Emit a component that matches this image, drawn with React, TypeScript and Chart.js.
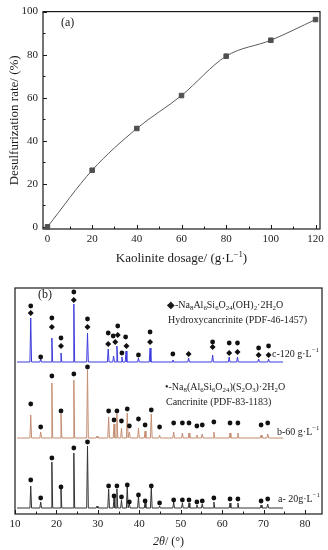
import React, { useEffect, useRef } from 'react';
import { Chart, registerables } from 'chart.js';
Chart.register(...registerables);

// ---------- Panel (a) data ----------
const DOSAGE = [0, 20, 40, 60, 80, 100, 120];
const RATE = [0, 26.3, 45.7, 61, 79.3, 86.7, 96.3];
const TOP_X_TICKS = [0, 20, 40, 60, 80, 100, 120];
const TOP_X_MINOR = [10, 30, 50, 70, 90, 110];
const TOP_Y_TICKS = [0, 20, 40, 60, 80, 100];
const TOP_Y_MINOR = [10, 30, 50, 70, 90];

// ---------- Panel (b) data ----------
const XRD_X_TICKS = [10, 20, 30, 40, 50, 60, 70, 80];
const XRD_X_MINOR = [15, 25, 35, 45, 55, 65, 75];
const TRACE_START = 10.5;
const TRACE_END = 74.7;
const A_BASE = 6;
const B_BASE = 76;
const C_BASE = 152;

const AB_PEAKS = [13.8, 16.2, 18.9, 21.1, 24.2, 27.5, 29.8, 32.6, 33.9, 34.6, 35.7, 37.1, 37.6, 39.8, 41.4, 42.9, 44.9, 48.3, 50.4, 52.0, 53.9, 55.2, 58.0, 61.9, 63.8, 69.4, 71.0];
const A_HEIGHTS = [22, 6, 46, 19, 55, 62, 2, 19, 11, 19, 8, 22, 4, 12, 6, 21, 2, 6, 5, 5, 3, 4, 6, 5, 5, 3, 4];
const B_HEIGHTS = [23, 6, 55, 24, 58, 68, 2, 21, 14, 24, 10, 25, 6, 10, 7, 24, 3, 6, 5, 5, 3, 4, 6, 5, 5, 3, 4];
const C_PEAKS = [13.8, 16.2, 18.9, 21.1, 24.2, 27.5, 32.5, 33.8, 34.6, 35.8, 36.8, 39.8, 42.6, 48.1, 51.9, 57.7, 61.7, 63.7, 68.8, 71.2];
const C_HEIGHTS = [44, 3, 24, 9, 58, 29, 13, 6, 16, 5, 11, 4, 14, 2, 4, 7, 5, 5, 3, 3];

const AB_DOT_X = [13.8, 16.2, 18.9, 21.1, 24.2, 27.5, 32.6, 33.9, 34.6, 35.7, 37.1, 37.6, 39.8, 41.4, 42.9, 44.9, 48.3, 50.4, 52.0, 53.9, 55.2, 58.0, 61.9, 63.8, 69.4, 71.0];
const A_DOT_Y = [34, 16, 56, 27, 66, 72, 28, 18, 28, 17, 29, 12, 19, 13, 28, 11, 14, 14, 14, 12, 13, 16, 15, 15, 13, 15];
const B_DOT_Y = [110, 87, 138, 103, 140, 147, 103, 94, 103, 93, 105, 88, 95, 89, 104, 87, 91, 91, 91, 88, 89, 92, 91, 91, 89, 91];
const C_DOT_X = [13.8, 16.2, 18.9, 21.1, 24.2, 27.5, 32.5, 33.7, 34.8, 35.8, 36.7, 39.8, 42.6, 48.1, 57.7, 61.7, 63.7, 68.8, 71.2];
const C_DOT_Y = [208, 157, 196, 176, 222, 195, 181, 178, 188, 161, 177, 159, 182, 160, 172, 171, 171, 166, 168];
const C_DIA_X = [13.8, 18.9, 21.1, 24.2, 27.5, 32.5, 34.2, 34.8, 36.9, 42.6, 51.9, 57.7, 61.7, 63.7, 68.8, 71.2];
const C_DIA_Y = [201, 187, 168, 214, 187, 170, 172, 179, 168, 172, 160, 167, 161, 162, 159, 159];

const SERIF = '"Liberation Serif", "Times New Roman", serif';

function buildTrace(peaks: number[], heights: number[], base: number) {
  const w = 0.2;
  const pts: { x: number; y: number }[] = [{ x: TRACE_START, y: base }];
  peaks.forEach((p, i) => {
    pts.push({ x: p - w, y: base }, { x: p, y: base + heights[i] }, { x: p + w, y: base });
  });
  pts.push({ x: TRACE_END, y: base });
  return pts;
}

function zip(xs: number[], ys: number[], off = 0) {
  return xs.map((x, i) => ({ x, y: ys[i] + off }));
}

type Seg = { t: string; m: number; it: boolean };
function parseRich(s: string): Seg[] {
  const segs: Seg[] = [];
  let buf = '';
  let it = false;
  let i = 0;
  const flush = () => { if (buf) { segs.push({ t: buf, m: 0, it }); buf = ''; } };
  while (i < s.length) {
    const ch = s[i];
    if (ch === '_' || ch === '^') {
      flush();
      let t: string;
      if (s[i + 1] === '{') {
        const j = s.indexOf('}', i);
        t = s.slice(i + 2, j);
        i = j + 1;
      } else {
        t = s[i + 1];
        i += 2;
      }
      segs.push({ t, m: ch === '_' ? 1 : -1, it });
    } else if (ch === '~') {
      flush();
      it = !it;
      i++;
    } else {
      buf += ch;
      i++;
    }
  }
  flush();
  return segs;
}

function drawRich(ctx: CanvasRenderingContext2D, s: string, x: number, y: number, size: number, align: 'left' | 'center' = 'left', color = '#1a1a1a') {
  const segs = parseRich(s);
  const small = size * 0.68;
  const fontFor = (g: Seg) => `${g.it ? 'italic ' : ''}${g.m === 0 ? size : small}px ${SERIF}`;
  let total = 0;
  segs.forEach((g) => { ctx.font = fontFor(g); total += ctx.measureText(g.t).width; });
  let cx = align === 'center' ? x - total / 2 : x;
  ctx.fillStyle = color;
  ctx.textBaseline = 'middle';
  ctx.textAlign = 'left';
  segs.forEach((g) => {
    ctx.font = fontFor(g);
    const dy = g.m === 1 ? size * 0.28 : g.m === -1 ? -size * 0.35 : 0;
    ctx.fillText(g.t, cx, y + dy);
    cx += ctx.measureText(g.t).width;
  });
}

function drawFrameAndTicks(chart: any, xMaj: number[], xMin: number[], yMaj: number[], yMin: number[]) {
  const { ctx, chartArea: a, scales } = chart;
  ctx.save();
  ctx.strokeStyle = '#1a1a1a';
  ctx.lineWidth = 1.2;
  ctx.strokeRect(a.left, a.top, a.right - a.left, a.bottom - a.top);
  ctx.lineWidth = 1;
  ctx.beginPath();
  xMaj.forEach((v) => { const p = Math.round(scales.x.getPixelForValue(v)) + 0.5; ctx.moveTo(p, a.bottom); ctx.lineTo(p, a.bottom - 4); });
  xMin.forEach((v) => { const p = Math.round(scales.x.getPixelForValue(v)) + 0.5; ctx.moveTo(p, a.bottom); ctx.lineTo(p, a.bottom - 2.5); });
  yMaj.forEach((v) => { const p = Math.round(scales.y.getPixelForValue(v)) + 0.5; ctx.moveTo(a.left, p); ctx.lineTo(a.left + 4, p); });
  yMin.forEach((v) => { const p = Math.round(scales.y.getPixelForValue(v)) + 0.5; ctx.moveTo(a.left, p); ctx.lineTo(a.left + 2.5, p); });
  ctx.stroke();
  ctx.restore();
}

function TopChart() {
  const ref = useRef<HTMLCanvasElement>(null);
  useEffect(() => {
    const decor = {
      id: 'decorA',
      beforeDatasetsDraw(chart: any) {
        drawFrameAndTicks(chart, TOP_X_TICKS, TOP_X_MINOR, TOP_Y_TICKS, TOP_Y_MINOR);
      },
      afterDraw(chart: any) {
        const { ctx, chartArea: a } = chart;
        ctx.save();
        drawRich(ctx, '(a)', 61, 23, 12);
        drawRich(ctx, 'Kaolinite dosage/ (g·L^{−1})', (a.left + a.right) / 2, 259, 13, 'center');
        ctx.translate(15, (a.top + a.bottom) / 2);
        ctx.rotate(-Math.PI / 2);
        drawRich(ctx, 'Desulfurization rate/ (%)', 0, 0, 13, 'center');
        ctx.restore();
      },
    };
    const chart = new Chart(ref.current!, {
      type: 'line',
      data: {
        datasets: [
          {
            data: DOSAGE.map((x, i) => ({ x, y: RATE[i] })),
            borderColor: '#5a5a5a',
            borderWidth: 1,
            pointStyle: 'rect',
            pointRadius: 3.2,
            pointBackgroundColor: '#505050',
            pointBorderColor: '#505050',
            cubicInterpolationMode: 'monotone',
            clip: false as any,
          },
        ],
      },
      options: {
        responsive: false,
        animation: false,
        devicePixelRatio: 1,
        layout: { padding: { left: 0, right: 8, top: 6, bottom: 0 } },
        plugins: { legend: { display: false }, tooltip: { enabled: false } },
        scales: {
          x: {
            type: 'linear',
            min: -2,
            max: 122,
            grid: { display: false, drawTicks: false },
            border: { display: false },
            afterBuildTicks: (s: any) => { s.ticks = TOP_X_TICKS.map((v) => ({ value: v })); },
            afterFit: (s: any) => { s.height = 46; },
            ticks: { padding: 4, color: '#1a1a1a', font: { family: SERIF, size: 11 }, maxRotation: 0, autoSkip: false },
          },
          y: {
            type: 'linear',
            min: -1,
            max: 100,
            grid: { display: false, drawTicks: false },
            border: { display: false },
            afterBuildTicks: (s: any) => { s.ticks = TOP_Y_TICKS.map((v) => ({ value: v })); },
            afterFit: (s: any) => { s.width = 43; },
            ticks: { padding: 5, color: '#1a1a1a', font: { family: SERIF, size: 11 }, autoSkip: false },
          },
        },
      },
      plugins: [decor],
    });
    return () => chart.destroy();
  }, []);
  return <canvas ref={ref} width={328} height={275} style={{ position: 'absolute', left: 0, top: 0 }} />;
}

function BottomChart() {
  const ref = useRef<HTMLCanvasElement>(null);
  useEffect(() => {
    const decor = {
      id: 'decorB',
      beforeDatasetsDraw(chart: any) {
        drawFrameAndTicks(chart, XRD_X_TICKS, XRD_X_MINOR, [], []);
      },
      afterDraw(chart: any) {
        const { ctx, chartArea: a } = chart;
        ctx.save();
        drawRich(ctx, '(b)', 38, 20, 12);
        drawRich(ctx, '◆-Na_8Al_6Si_6O_{24}(OH)_2·2H_2O', 167, 30, 10);
        drawRich(ctx, 'Hydroxycancrinite (PDF-46-1457)', 168, 45, 10);
        drawRich(ctx, 'c-120 g·L^{−1}', 272, 79, 10);
        drawRich(ctx, '•-Na_8(Al_6Si_6O_{24})(S_2O_3)·2H_2O', 165, 112, 10);
        drawRich(ctx, 'Cancrinite (PDF-83-1183)', 166, 127, 10);
        drawRich(ctx, 'b-60 g·L^{−1}', 277, 157, 10);
        drawRich(ctx, 'a- 20g·L^{−1}', 278, 224, 10);
        drawRich(ctx, '~2θ~/ (°)', (a.left + a.right) / 2, 267, 12, 'center');
        ctx.restore();
      },
    };
    const markerCommon = { showLine: false, borderWidth: 0, pointBorderWidth: 0, clip: false as any };
    const chart = new Chart(ref.current!, {
      type: 'line',
      data: {
        datasets: [
          { ...markerCommon, data: zip(C_DIA_X, C_DIA_Y), pointStyle: 'rectRot', pointRadius: 3, pointBackgroundColor: '#111', pointBorderColor: '#111' },
          { ...markerCommon, data: [...zip(C_DOT_X, C_DOT_Y), ...zip(AB_DOT_X, B_DOT_Y), ...zip(AB_DOT_X, A_DOT_Y)], pointStyle: 'circle', pointRadius: 2.4, pointBackgroundColor: '#111', pointBorderColor: '#111' },
          { data: buildTrace(C_PEAKS, C_HEIGHTS, C_BASE), borderColor: '#3b3bdc', borderWidth: 1, pointRadius: 0, tension: 0 },
          { data: buildTrace(AB_PEAKS, B_HEIGHTS, B_BASE), borderColor: '#c48d72', borderWidth: 1, pointRadius: 0, tension: 0 },
          { data: buildTrace(AB_PEAKS, A_HEIGHTS, A_BASE), borderColor: '#333333', borderWidth: 1, pointRadius: 0, tension: 0 },
        ],
      },
      options: {
        responsive: false,
        animation: false,
        devicePixelRatio: 1,
        layout: { padding: { left: 15, right: 6, top: 13, bottom: 0 } },
        plugins: { legend: { display: false }, tooltip: { enabled: false } },
        scales: {
          x: {
            type: 'linear',
            min: 10,
            max: 84.1,
            grid: { display: false, drawTicks: false },
            border: { display: false },
            afterBuildTicks: (s: any) => { s.ticks = XRD_X_TICKS.map((v) => ({ value: v })); },
            afterFit: (s: any) => { s.height = 36; },
            ticks: { padding: 4, color: '#1a1a1a', font: { family: SERIF, size: 11 }, maxRotation: 0, autoSkip: false },
          },
          y: {
            type: 'linear',
            min: 0,
            max: 226,
            display: false,
          },
        },
      },
      plugins: [decor],
    });
    return () => chart.destroy();
  }, []);
  return <canvas ref={ref} width={328} height={275} style={{ position: 'absolute', left: 0, top: 275 }} />;
}

export default function App() {
  return (
    <div style={{ position: 'fixed', left: 0, top: 0, width: 328, height: 550, background: '#fff' }}>
      <TopChart />
      <BottomChart />
    </div>
  );
}
